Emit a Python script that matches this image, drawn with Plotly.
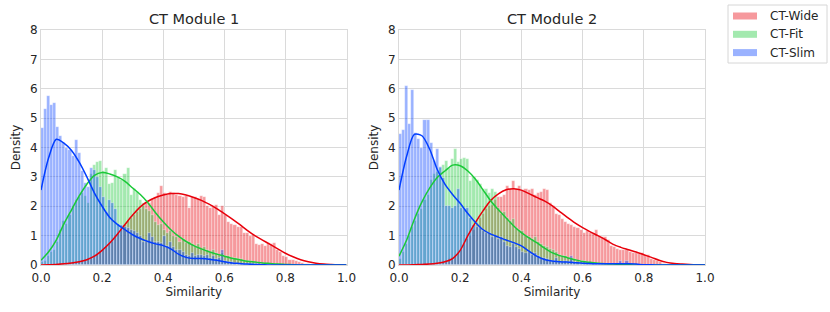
import numpy as np
import plotly.graph_objects as go

# ---------------- data ----------------
SERIES = ["CT-Wide", "CT-Fit", "CT-Slim"]
MODULES = ["CT Module 1", "CT Module 2"]
BIN_WIDTH = 0.01  # histogram bins start at 0.0

# histogram densities per 0.01 bin, starting at bin [0.00, 0.01)
m1_wide_hist = [0, 0, 0, 0, 0.01, 0.02, 0.02, 0.03, 0.04, 0.05,
                0.06, 0.08, 0.1, 0.12, 0.15, 0.2, 0.25, 0.3, 0.35, 0.45,
                0.5, 0.6, 0.7, 0.8, 1.0, 1.1, 1.2, 1.35, 1.5, 1.6,
                1.7, 1.8, 1.9, 2.0, 2.1, 2.1, 2.25, 2.3, 2.45, 2.7,
                2.45, 2.4, 2.5, 2.45, 2.4, 2.35, 2.3, 2.35, 1.95, 2.3,
                2.3, 2.25, 2.35, 2.3, 2.0, 1.95, 2.0, 2.05, 1.7, 2.0,
                1.7, 1.45, 1.4, 1.35, 1.3, 1.3, 1.1, 1.08, 1.0, 1.02,
                0.7, 0.68, 0.7, 0.66, 0.75, 0.72, 0.74, 0.5, 0.45, 0.3,
                0.28, 0.18, 0.16, 0.12, 0.1, 0.06, 0.04, 0.02, 0.01, 0.01]
m1_fit_hist = [0.1, 0.15, 0.3, 0.45, 0.5, 0.8, 1.2, 1.5, 1.4, 1.7,
               2.0, 2.2, 2.3, 2.45, 2.35, 2.1, 3.1, 3.4, 3.5, 3.55,
               3.2, 3.3, 2.75, 2.8, 3.25, 3.0, 2.9, 3.1, 3.3, 2.4,
               2.6, 2.5, 2.2, 2.1, 1.9, 1.85, 1.7, 1.45, 1.35, 1.4,
               1.2, 1.1, 1.15, 1.0, 0.95, 0.8, 0.9, 0.75, 0.8, 0.7,
               0.65, 0.7, 0.55, 0.6, 0.5, 0.45, 0.5, 0.4, 0.35, 0.4,
               0.3, 0.3, 0.25, 0.25, 0.2, 0.2, 0.15, 0.12, 0.12, 0.1,
               0.08, 0.06, 0.05, 0.04, 0.03, 0.02, 0.02, 0.01]
m1_slim_hist = [4.65, 5.3, 5.75, 5.45, 5.5, 4.7, 4.4, 4.15, 4.0, 3.9,
                3.7, 4.25, 3.8, 3.2, 2.8, 2.65, 3.3, 3.25, 3.0, 2.65,
                2.3, 1.8, 2.2, 2.1, 1.9, 1.4, 1.35, 1.3, 1.25, 1.2,
                1.15, 1.1, 1.0, 0.8, 0.8, 1.1, 0.95, 0.8, 0.8, 0.75,
                1.0, 0.65, 0.8, 0.6, 0.5, 0.5, 0.45, 0.35, 0.3, 0.4,
                0.3, 0.35, 0.35, 0.3, 0.35, 0.25, 0.3, 0.2, 0.25, 0.5,
                0.15, 0.1, 0.1, 0.08, 0.05, 0.05, 0.04, 0.03, 0.02, 0.02,
                0.02, 0.01, 0.01]

m2_wide_hist = [0, 0, 0, 0, 0, 0, 0, 0, 0.01, 0.01,
                0.02, 0.03, 0.04, 0.05, 0.08, 0.15, 0.2, 0.25, 0.3, 0.4,
                0.5, 0.7, 0.9, 1.0, 1.2, 1.4, 1.6, 1.75, 1.9, 2.0,
                2.05, 2.2, 2.3, 2.3, 2.4, 2.7, 2.6, 2.85, 2.6, 2.7,
                2.55, 2.6, 2.55, 2.6, 2.4, 2.45, 2.5, 2.6, 2.55, 2.1,
                2.0, 1.75, 1.7, 1.55, 1.45, 1.4, 1.35, 1.3, 1.25, 1.2,
                1.1, 1.15, 1.1, 1.05, 1.2, 1.0, 0.95, 0.95, 0.85, 0.65,
                0.6, 0.55, 0.52, 0.5, 0.5, 0.45, 0.4, 0.42, 0.38, 0.4,
                0.35, 0.33, 0.2, 0.17, 0.12, 0.1, 0.05, 0.02, 0.01]
m2_fit_hist = [0.2, 0.45, 0.7, 1.0, 1.3, 1.5, 1.75, 1.9, 2.2, 2.4,
               2.9, 3.1, 3.15, 3.3, 3.4, 3.55, 3.3, 3.6, 3.95, 3.5,
               3.6, 3.65, 3.6, 2.85, 3.0, 2.9, 2.75, 2.6, 2.6, 2.45,
               2.6, 2.5, 1.95, 1.75, 1.8, 1.6, 1.5, 1.55, 1.25, 1.2,
               1.15, 1.0, 0.95, 0.9, 0.95, 0.8, 0.7, 0.65, 0.6, 0.55,
               0.5, 0.45, 0.35, 0.3, 0.3, 0.25, 0.25, 0.2, 0.15, 0.15,
               0.12, 0.1, 0.08, 0.07, 0.05, 0.04, 0.03, 0.02, 0.02, 0.01]
m2_slim_hist = [4.45, 4.6, 6.1, 4.8, 5.95, 4.5, 4.3, 4.0, 4.95, 4.95,
                4.15, 3.55, 3.95, 3.35, 2.95, 2.0, 2.0, 1.95, 2.0, 2.6,
                1.95, 1.9, 1.95, 1.6, 1.35, 1.3, 1.25, 1.15, 1.1, 1.1,
                0.95, 1.0, 0.9, 0.95, 0.8, 0.65, 0.6, 0.7, 0.6, 0.55,
                0.45, 0.4, 0.45, 0.35, 0.4, 0.3, 0.2, 0.25, 0.2, 0.15,
                0.15, 0.25, 0.1, 0.1, 0.15, 0.1, 0.3, 0.1, 0.08, 0.05,
                0.05, 0.05, 0.04, 0.03, 0.03, 0.02, 0.02, 0.02, 0.02, 0.02,
                0.02, 0.02, 0.14, 0.02, 0.14, 0.02, 0.01]

# KDE curves sampled at similarity 0.000, 0.025, ..., 1.000
kde_x = [round(0.025 * i, 3) for i in range(41)]
m1_wide_kde = [0.0, 0.01, 0.02, 0.04, 0.07, 0.11, 0.18, 0.3, 0.5, 0.75,
               1.05, 1.38, 1.7, 1.98, 2.17, 2.3, 2.38, 2.43, 2.43, 2.38,
               2.3, 2.2, 2.07, 1.92, 1.75, 1.57, 1.38, 1.18, 1.0, 0.85,
               0.7, 0.55, 0.4, 0.28, 0.18, 0.11, 0.06, 0.03, 0.015, 0.005, 0.0]
m1_fit_kde = [0.16, 0.45, 0.85, 1.4, 1.88, 2.35, 2.75, 3.05, 3.15, 3.1,
              3.0, 2.85, 2.62, 2.4, 2.12, 1.78, 1.47, 1.2, 0.98, 0.8,
              0.66, 0.55, 0.45, 0.37, 0.3, 0.23, 0.18, 0.13, 0.1, 0.07,
              0.05, 0.03, 0.02, 0.01, 0, 0, 0, 0, 0, 0, 0]
m1_slim_kde = [2.55, 3.65, 4.28, 4.15, 3.9, 3.5, 3.0, 2.45, 2.0, 1.62,
               1.38, 1.2, 1.03, 0.9, 0.8, 0.72, 0.66, 0.55, 0.37, 0.26,
               0.22, 0.22, 0.2, 0.16, 0.11, 0.07, 0.05, 0.03, 0.02, 0.01,
               0, 0, 0, 0, 0, 0, 0, 0, 0, 0, 0]
m2_wide_kde = [0.0, 0.0, 0.01, 0.02, 0.03, 0.06, 0.11, 0.22, 0.5, 1.0,
               1.45, 1.85, 2.2, 2.42, 2.56, 2.6, 2.55, 2.43, 2.3, 2.18,
               2.02, 1.82, 1.62, 1.43, 1.27, 1.13, 1.0, 0.86, 0.7, 0.6,
               0.52, 0.44, 0.35, 0.26, 0.16, 0.09, 0.05, 0.03, 0.015, 0.005, 0.0]
m2_fit_kde = [0.3, 0.85, 1.55, 2.15, 2.62, 2.98, 3.2, 3.4, 3.38, 3.2,
              2.92, 2.55, 2.18, 1.88, 1.6, 1.33, 1.1, 0.92, 0.76, 0.58,
              0.42, 0.32, 0.25, 0.18, 0.12, 0.09, 0.06, 0.04, 0.03, 0.02,
              0.01, 0, 0, 0, 0, 0, 0, 0, 0, 0, 0]
m2_slim_kde = [2.55, 3.7, 4.45, 4.4, 3.95, 3.25, 2.75, 2.4, 2.1, 1.75,
               1.45, 1.2, 1.05, 0.95, 0.85, 0.76, 0.65, 0.47, 0.3, 0.19,
               0.14, 0.11, 0.1, 0.08, 0.06, 0.05, 0.04, 0.04, 0.04, 0.04,
               0.04, 0.03, 0.01, 0.005, 0, 0, 0, 0, 0, 0, 0]

x_ticks = [0.0, 0.2, 0.4, 0.6, 0.8, 1.0]
y_ticks = [0, 1, 2, 3, 4, 5, 6, 7, 8]

# ---------------- style ----------------
LINE_COL = {"CT-Wide": "#e8000b", "CT-Fit": "#1ac938", "CT-Slim": "#023eff"}
BAR_COL = {"CT-Wide": "rgba(232,0,11,0.4)", "CT-Fit": "rgba(26,201,56,0.4)",
           "CT-Slim": "rgba(2,62,255,0.4)"}
FONT = "DejaVu Sans"
TXT = "#262626"
GRID = "#dadada"

hists = [
    {"CT-Wide": m1_wide_hist, "CT-Fit": m1_fit_hist, "CT-Slim": m1_slim_hist},
    {"CT-Wide": m2_wide_hist, "CT-Fit": m2_fit_hist, "CT-Slim": m2_slim_hist},
]
kdes = [
    {"CT-Wide": m1_wide_kde, "CT-Fit": m1_fit_kde, "CT-Slim": m1_slim_kde},
    {"CT-Wide": m2_wide_kde, "CT-Fit": m2_fit_kde, "CT-Slim": m2_slim_kde},
]

fig = go.Figure()
axes = [("x", "y"), ("x2", "y2")]
for m, (xa, ya) in enumerate(axes):
    for s in SERIES:
        vals = hists[m][s]
        centers = [BIN_WIDTH * (i + 0.5) for i in range(len(vals))]
        fig.add_trace(go.Bar(
            x=centers, y=vals, width=BIN_WIDTH, xaxis=xa, yaxis=ya, name=s,
            marker=dict(color=BAR_COL[s],
                        line=dict(color="rgba(255,255,255,0.55)", width=0.6)),
            showlegend=False, hoverinfo="skip"))
    for s in SERIES:
        fig.add_trace(go.Scatter(
            x=kde_x, y=kdes[m][s], mode="lines", xaxis=xa, yaxis=ya, name=s,
            line=dict(color=LINE_COL[s], width=1.5, shape="spline", smoothing=0.8),
            showlegend=False, hoverinfo="skip"))

L, R, T, B = 41, 125, 30, 47
W, H = 830, 312
pw = W - L - R
ph = H - T - B
dom1 = [0, (346.5 - L) / pw]
dom2 = [(399 - L) / pw, 1.0]


def px_x(p):
    return (p - L) / pw


def px_y(p):
    return (H - B - p) / ph


# legend drawn as a boxed key in the right margin
shapes = [dict(type="rect", xref="paper", yref="paper",
               x0=px_x(728), x1=px_x(827), y0=px_y(63), y1=px_y(5),
               line=dict(color="#d6d6d6", width=1), fillcolor="white", layer="above")]
annotations = []
for i, s in enumerate(SERIES):
    cy = 16 + 18.3 * i
    shapes.append(dict(type="rect", xref="paper", yref="paper",
                       x0=px_x(733), x1=px_x(757), y0=px_y(cy + 3.5), y1=px_y(cy - 3.5),
                       line=dict(width=0), fillcolor=BAR_COL[s], layer="above"))
    annotations.append(dict(text=s, x=px_x(768), y=px_y(cy), xref="paper", yref="paper",
                            xanchor="left", yanchor="middle", showarrow=False,
                            font=dict(size=12, color=TXT, family=FONT)))

for name, dom in zip(MODULES, [dom1, dom2]):
    annotations.append(dict(text=name, x=(dom[0] + dom[1]) / 2, y=1, xref="paper",
                            yref="paper", xanchor="center", yanchor="bottom", yshift=1,
                            showarrow=False, font=dict(size=14.5, color=TXT, family=FONT)))

axis_common = dict(showgrid=True, gridcolor=GRID, gridwidth=1, zeroline=False,
                   showline=True, linecolor=GRID, linewidth=1, mirror=True,
                   automargin=False,
                   ticks="", tickfont=dict(size=12, color=TXT, family=FONT))
xcommon = dict(axis_common, range=[0, 1], tickvals=x_ticks,
               ticktext=[f"{v:.1f}" for v in x_ticks], ticklabelstandoff=2,
               title=dict(text="Similarity", font=dict(size=12, color=TXT, family=FONT),
                          standoff=2))
ycommon = dict(axis_common, range=[0, 8], tickvals=y_ticks,
               title=dict(text="Density", font=dict(size=12, color=TXT, family=FONT),
                          standoff=6))

fig.update_layout(
    width=W, height=H,
    margin=dict(l=L, r=R, t=T, b=B),
    paper_bgcolor="white", plot_bgcolor="white",
    barmode="overlay", bargap=0, showlegend=False,
    font=dict(family=FONT, color=TXT, size=12),
    xaxis=dict(xcommon, domain=dom1, anchor="y"),
    yaxis=dict(ycommon, domain=[0, 1], anchor="x"),
    xaxis2=dict(xcommon, domain=dom2, anchor="y2"),
    yaxis2=dict(ycommon, domain=[0, 1], anchor="x2"),
    shapes=shapes,
    annotations=annotations,
)

fig.write_html("out.html", config={"displayModeBar": False},
               post_script="document.body.style.margin='0';document.body.style.padding='0';")
